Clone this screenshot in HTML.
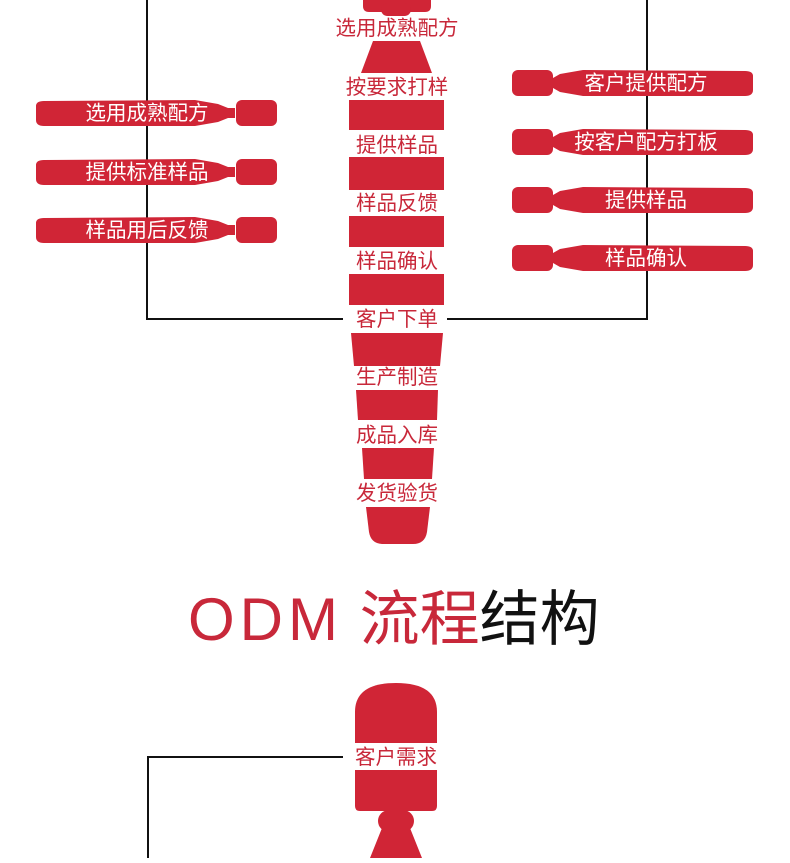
<!DOCTYPE html>
<html><head><meta charset="utf-8"><style>
body{margin:0;background:#fff;width:790px;height:858px;overflow:hidden}
svg text{font-family:"Liberation Sans","Noto Sans CJK SC",sans-serif}
</style></head><body>
<svg width="790" height="858" viewBox="0 0 790 858" xmlns="http://www.w3.org/2000/svg">
<g stroke="#111" stroke-width="2" fill="none">
<path d="M147 0V319H343"/><path d="M647 0V319H447"/>
<path d="M148 858V757H343"/>
</g>
<g fill="#d02536">
<path d="M363 0H431V6Q431 12 425 12H369Q363 12 363 6Z"/>
<rect x="381" y="3" width="30" height="13" rx="6.5"/>
<path d="M373 41H420L432 73H361Z"/>
<rect x="349" y="100" width="95" height="30"/>
<rect x="349" y="157" width="95" height="33"/>
<rect x="349" y="216" width="95" height="31"/>
<rect x="349" y="274" width="95" height="31"/>
<path d="M351 333H443L440 366H354Z"/>
<path d="M356 390H438L437 420H358Z"/>
<path d="M362 448H434L432 479H364Z"/>
<path d="M366 507H430L427 532Q425 544 413 544H383Q371 544 369 532Z"/>
<path d="M355 712Q355 683 396 683Q437 683 437 712V743H355Z"/>
<path d="M355 770H437V806Q437 811 432 811H360Q355 811 355 806Z"/>
<rect x="378" y="810" width="36" height="22" rx="11"/>
<path d="M382 828H410L422 858H370Z"/>
</g>
<g fill="#d02536">
<g id="lp">
<path d="M36 106Q36 101 44 101L195 100L218 104L228 108L235 108V118L228 118L218 122L195 126L44 126Q36 126 36 120Z"/>
<rect x="236" y="100" width="41" height="26" rx="6"/>
</g>
<use href="#lp" y="59"/><use href="#lp" y="117"/>
<g id="rp">
<path d="M753 76Q753 71 745 71L583 70L560 74L553 78L547 78V88L553 88L560 92L583 96L745 96Q753 96 753 90Z"/>
<rect x="512" y="70" width="41" height="26" rx="6"/>
</g>
<use href="#rp" y="59"/><use href="#rp" y="117"/><use href="#rp" y="175"/>
</g>
<g font-size="20.5" fill="#fff" text-anchor="middle">
<text x="147" y="120">选用成熟配方</text>
<text x="147" y="179">提供标准样品</text>
<text x="147" y="237">样品用后反馈</text>
<text x="646" y="90">客户提供配方</text>
<text x="646" y="149">按客户配方打板</text>
<text x="646" y="207">提供样品</text>
<text x="646" y="265">样品确认</text>
</g>
<g font-size="20.5" fill="#c8283a" text-anchor="middle">
<text x="397" y="35">选用成熟配方</text>
<text x="397" y="94">按要求打样</text>
<text x="397" y="152">提供样品</text>
<text x="397" y="210">样品反馈</text>
<text x="397" y="268">样品确认</text>
<text x="397" y="326">客户下单</text>
<text x="397" y="384">生产制造</text>
<text x="397" y="442">成品入库</text>
<text x="397" y="500">发货验货</text>
<text x="396" y="764">客户需求</text>
</g>
<text x="188" y="640" font-size="60" fill="#c8283a"><tspan letter-spacing="5">ODM</tspan> 流程<tspan fill="#111">结构</tspan></text>
</svg>
</body></html>
